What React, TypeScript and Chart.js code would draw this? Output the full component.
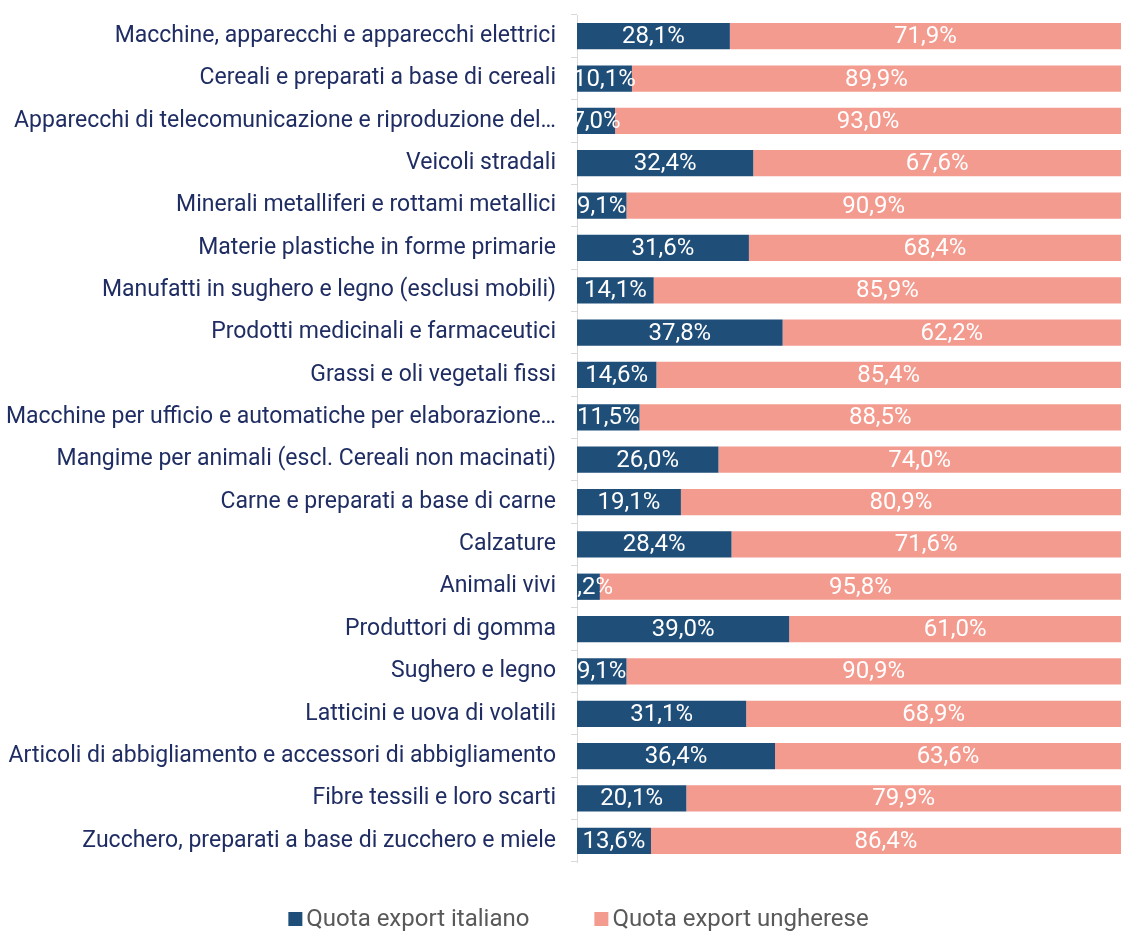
import React, { useEffect, useRef } from "react";
import { Chart, registerables } from "chart.js";

Chart.register(...registerables);

const categories = [
  "Macchine, apparecchi e apparecchi elettrici",
  "Cereali e preparati a base di cereali",
  "Apparecchi di telecomunicazione e riproduzione del…",
  "Veicoli stradali",
  "Minerali metalliferi e rottami metallici",
  "Materie plastiche in forme primarie",
  "Manufatti in sughero e legno (esclusi mobili)",
  "Prodotti medicinali e farmaceutici",
  "Grassi e oli vegetali fissi",
  "Macchine per ufficio e automatiche per elaborazione…",
  "Mangime per animali (escl. Cereali non macinati)",
  "Carne e preparati a base di carne",
  "Calzature",
  "Animali vivi",
  "Produttori di gomma",
  "Sughero e legno",
  "Latticini e uova di volatili",
  "Articoli di abbigliamento e accessori di abbigliamento",
  "Fibre tessili e loro scarti",
  "Zucchero, preparati a base di zucchero e miele",
];

const quotaItaliano = [28.1, 10.1, 7.0, 32.4, 9.1, 31.6, 14.1, 37.8, 14.6, 11.5, 26.0, 19.1, 28.4, 4.2, 39.0, 9.1, 31.1, 36.4, 20.1, 13.6];
const quotaUngherese = [71.9, 89.9, 93.0, 67.6, 90.9, 68.4, 85.9, 62.2, 85.4, 88.5, 74.0, 80.9, 71.6, 95.8, 61.0, 90.9, 68.9, 63.6, 79.9, 86.4];

const seriesNames = ["Quota export italiano", "Quota export ungherese"];
const seriesColors = ["#1F4E79", "#F49B8F"];

const fmt = (v: number) => v.toFixed(1).replace(".", ",") + "%";

const dataLabelPlugin = {
  id: "dataLabels",
  afterDatasetsDraw(chart: any) {
    const ctx = chart.ctx;
    const area = chart.chartArea;
    ctx.save();
    ctx.beginPath();
    ctx.rect(area.left, area.top, area.right - area.left, area.bottom - area.top);
    ctx.clip();
    ctx.font = "24px Roboto";
    ctx.fillStyle = "#ffffff";
    ctx.textAlign = "center";
    ctx.textBaseline = "middle";
    chart.data.datasets.forEach((ds: any, di: number) => {
      const meta = chart.getDatasetMeta(di);
      meta.data.forEach((bar: any, i: number) => {
        const cx = (bar.x + bar.base) / 2;
        ctx.fillText(fmt(ds.data[i]), cx, bar.y + 1);
      });
    });
    ctx.restore();
  },
};

const legendPlugin = {
  id: "customLegend",
  afterDraw(chart: any) {
    const ctx = chart.ctx;
    ctx.save();
    ctx.font = "24px Roboto";
    ctx.textBaseline = "middle";
    ctx.textAlign = "left";
    const box = 14;
    const textGap = 4;
    const itemGap = 65;
    const widths = chart.data.datasets.map((ds: any) => box + textGap + ctx.measureText(ds.label).width);
    const total = widths.reduce((a: number, b: number) => a + b, 0) + itemGap * (widths.length - 1);
    let x = chart.width / 2 + 18 - total / 2;
    const y = 919;
    chart.data.datasets.forEach((ds: any, i: number) => {
      ctx.fillStyle = ds.backgroundColor;
      ctx.fillRect(x, y - box / 2, box, box);
      ctx.fillStyle = "#595959";
      ctx.fillText(ds.label, x + box + textGap, y + 1);
      x += widths[i] + itemGap;
    });
    ctx.restore();
  },
};

export default function App() {
  const ref = useRef<HTMLCanvasElement | null>(null);
  useEffect(() => {
    if (!ref.current) return;
    const chart = new Chart(ref.current, {
      type: "bar",
      data: {
        labels: categories,
        datasets: [
          {
            label: seriesNames[0],
            data: quotaItaliano,
            backgroundColor: seriesColors[0],
            barPercentage: 0.62,
            categoryPercentage: 1,
          },
          {
            label: seriesNames[1],
            data: quotaUngherese,
            backgroundColor: seriesColors[1],
            barPercentage: 0.62,
            categoryPercentage: 1,
          },
        ],
      },
      options: {
        indexAxis: "y",
        animation: false,
        responsive: false,
        maintainAspectRatio: false,
        layout: { padding: { top: 15, bottom: 69, right: 0, left: 0 } },
        scales: {
          x: {
            stacked: true,
            min: 0,
            max: 100,
            display: false,
          },
          y: {
            stacked: true,
            afterFit: (scale: any) => {
              scale.width = 577;
              scale.paddingTop = 0;
              scale.paddingBottom = 0;
            },
            border: { display: true, color: "#D9D9D9", width: 1 },
            grid: {
              offset: true,
              drawOnChartArea: false,
              drawTicks: true,
              tickLength: 6,
              color: "#D9D9D9",
            },
            ticks: {
              color: "#1F2D63",
              font: { family: "Roboto", size: 23 },
              padding: 15,
              autoSkip: false,
            },
          },
        },
        plugins: {
          tooltip: { enabled: false },
          legend: { display: false },
        },
      },
      plugins: [dataLabelPlugin, legendPlugin],
    });
    return () => chart.destroy();
  }, []);
  return (
    <div style={{ position: "absolute", left: 0, top: 0, width: 1121, height: 931, background: "#fff" }}>
      <canvas ref={ref} width={1121} height={931} style={{ display: "block" }} />
    </div>
  );
}
